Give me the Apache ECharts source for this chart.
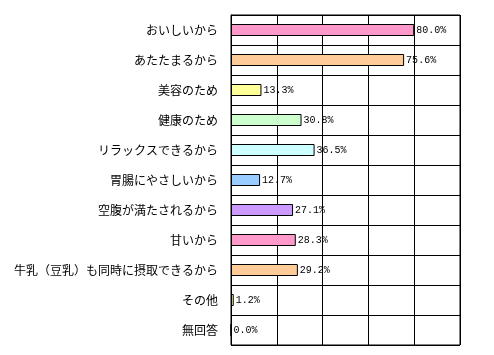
<!DOCTYPE html>
<html><head><meta charset="utf-8">
<script src="https://cdn.jsdelivr.net/npm/echarts@6/dist/echarts.min.js"></script>
<style>html,body{margin:0;padding:0;background:#fff}#c{width:494px;height:355px}</style>
</head><body><div id="c"></div>
<script>
const categories = ['おいしいから','あたたまるから','美容のため','健康のため','リラックスできるから','胃腸にやさしいから','空腹が満たされるから','甘いから','牛乳（豆乳）も同時に摂取できるから','その他','無回答'];
const values = [80.0, 75.6, 13.3, 30.8, 36.5, 12.7, 27.1, 28.3, 29.2, 1.2, 0.0];
const colors = ['#FF99CC','#FFCC99','#FFFF99','#CCFFCC','#CCFFFF','#99CCFF','#CC99FF','#FF99CC','#FFCC99','#FFFF99','#CCFFFF'];
const xTicks = [0, 20, 40, 60, 80, 100];

const chart = echarts.init(document.getElementById('c'));
chart.setOption({
  animation: false,
  backgroundColor: '#fff',
  grid: {left: 231, top: 15, width: 229, height: 330, show: true, borderColor: '#000', borderWidth: 1, containLabel: false},
  xAxis: {type: 'value', min: xTicks[0], max: xTicks[xTicks.length-1], interval: 20,
    axisLabel: {show: false}, axisTick: {show: false}, axisLine: {show: false},
    splitLine: {show: true, lineStyle: {color: '#000', width: 1}}},
  yAxis: {type: 'category', data: categories, inverse: true,
    axisTick: {show: false}, axisLine: {show: true, lineStyle: {color: '#000'}},
    splitLine: {show: true, lineStyle: {color: '#000', width: 1}},
    axisLabel: {color: '#000', fontSize: 12, fontFamily: '"Noto Sans CJK JP", sans-serif', margin: 13}},
  series: [{
    type: 'bar', barWidth: 12,
    data: values.map((v, i) => ({value: v, itemStyle: {color: colors[i]}})),
    itemStyle: {borderColor: '#000', borderWidth: 1},
    label: {show: true, position: 'right', distance: 2, color: '#000', fontSize: 10,
      fontFamily: '"Liberation Mono", monospace', formatter: p => p.value.toFixed(1) + '%'}
  }]
});
</script></body></html>
